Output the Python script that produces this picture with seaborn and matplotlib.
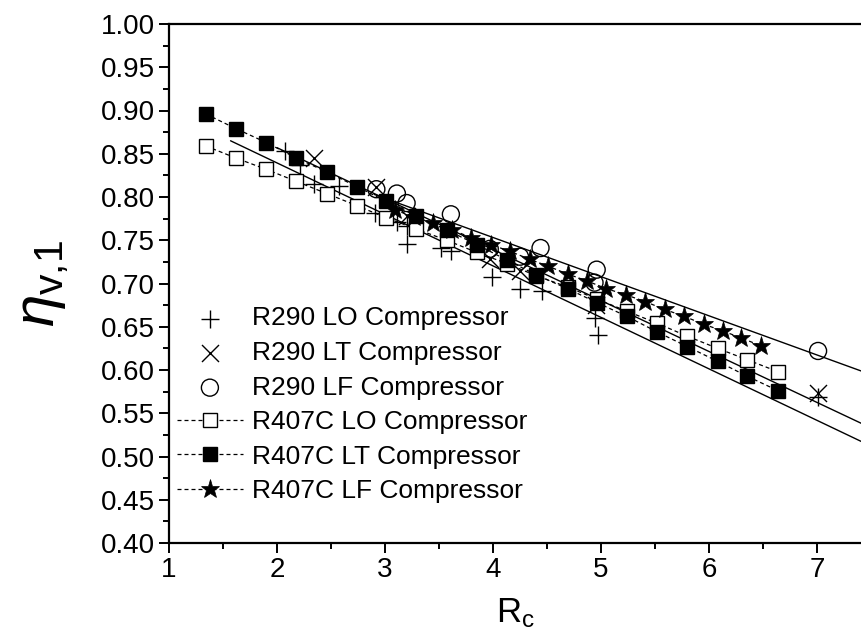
import numpy as np
import pandas as pd
import matplotlib
matplotlib.use("Agg")
import matplotlib.pyplot as plt
import seaborn as sns
from matplotlib.ticker import MultipleLocator, FormatStrFormatter

# ---------------- data ----------------
r290_lo_x = [2.07, 2.21, 2.34, 2.57, 2.91, 3.11, 3.20, 3.20, 3.52, 3.61, 3.99, 4.25, 4.45, 4.94, 4.97, 7.01]
r290_lo_y = [0.853, 0.837, 0.815, 0.813, 0.781, 0.771, 0.766, 0.746, 0.741, 0.737, 0.707, 0.694, 0.691, 0.660, 0.641, 0.569]

r290_lt_x = [2.34, 2.92, 3.20, 3.97, 4.25, 4.95, 7.01]
r290_lt_y = [0.845, 0.812, 0.778, 0.728, 0.715, 0.675, 0.573]

r290_lf_x = [2.92, 3.11, 3.20, 3.61, 3.97, 4.25, 4.44, 4.96, 4.94, 7.01]
r290_lf_y = [0.809, 0.804, 0.793, 0.780, 0.740, 0.731, 0.741, 0.716, 0.701, 0.622]

r407_x = [1.34, 1.62, 1.90, 2.18, 2.46, 2.74, 3.01, 3.29, 3.57, 3.85,
          4.13, 4.40, 4.69, 4.96, 5.24, 5.52, 5.80, 6.08, 6.35, 6.64]
r407_lo_y = [0.859, 0.845, 0.832, 0.818, 0.804, 0.790, 0.776, 0.763, 0.750, 0.736,
             0.723, 0.709, 0.696, 0.682, 0.668, 0.654, 0.639, 0.625, 0.612, 0.598]
r407_lt_y = [0.896, 0.879, 0.863, 0.845, 0.829, 0.812, 0.795, 0.778, 0.762, 0.745,
             0.727, 0.710, 0.694, 0.678, 0.662, 0.644, 0.627, 0.610, 0.593, 0.576]

r407_lf_x = [3.09, 3.27, 3.44, 3.62, 3.80, 3.98, 4.16, 4.34, 4.51, 4.69,
             4.87, 5.05, 5.23, 5.41, 5.59, 5.77, 5.95, 6.13, 6.30, 6.48]
r407_lf_y = [0.785, 0.777, 0.770, 0.762, 0.753, 0.745, 0.737, 0.728, 0.720, 0.711,
             0.703, 0.694, 0.687, 0.679, 0.670, 0.662, 0.653, 0.645, 0.637, 0.628]

# fitted (solid) lines for R290, read as end points
fit_lo_x = [1.57, 7.45]
fit_lo_y = [0.865, 0.515]
fit_lt_x = [2.00, 7.45]
fit_lt_y = [0.857, 0.536]
fit_lf_x = [2.90, 7.45]
fit_lf_y = [0.803, 0.597]

labels = ["R290 LO Compressor", "R290 LT Compressor", "R290 LF Compressor",
          "R407C LO Compressor", "R407C LT Compressor", "R407C LF Compressor"]

# ---------------- style ----------------
sns.set_style("ticks")
plt.rcParams["font.family"] = ["Liberation Sans", "DejaVu Sans"]
plt.rcParams["mathtext.fontset"] = "custom"
plt.rcParams["mathtext.rm"] = "Liberation Sans"
plt.rcParams["mathtext.it"] = "Liberation Sans:italic"
plt.rcParams["mathtext.bf"] = "Liberation Sans:bold"
for key in ["text.color", "axes.labelcolor", "xtick.color", "ytick.color", "axes.edgecolor"]:
    plt.rcParams[key] = "black"

FS_TICK = 20
FS_LEG = 19
fig = plt.figure(figsize=(8.62, 6.42), dpi=100)
ax = fig.add_axes([169 / 862, 1 - 543 / 642, 1 - 169 / 862, (543 - 24) / 642])

k = "black"
dash = (0, (3.2, 2.4))

# solid fit lines
for fx, fy in [(fit_lo_x, fit_lo_y), (fit_lt_x, fit_lt_y), (fit_lf_x, fit_lf_y)]:
    sns.lineplot(x=fx, y=fy, ax=ax, color=k, lw=1.0, estimator=None, sort=False, legend=False)

# R290 scatter (markers only)
sns.scatterplot(x=r290_lo_x, y=r290_lo_y, ax=ax, marker="+", s=170, color=k, linewidth=1.0,
                label=labels[0], zorder=4)
sns.scatterplot(x=r290_lt_x, y=r290_lt_y, ax=ax, marker="x", s=150, color=k, linewidth=1.0,
                label=labels[1], zorder=4)
sns.scatterplot(x=r290_lf_x, y=r290_lf_y, ax=ax, marker="o", s=150, facecolor="none",
                edgecolor=k, linewidth=1.0, label=labels[2], zorder=4)

# R407C line + symbol
sns.lineplot(x=r407_x, y=r407_lo_y, ax=ax, color=k, lw=0.9, linestyle=dash, marker="s",
             markersize=10, markerfacecolor="white", markeredgecolor=k, markeredgewidth=1.0,
             estimator=None, sort=False, label=labels[3], zorder=5)
sns.lineplot(x=r407_x, y=r407_lt_y, ax=ax, color=k, lw=0.9, linestyle=dash, marker="s",
             markersize=10, markerfacecolor=k, markeredgecolor=k, markeredgewidth=1.0,
             estimator=None, sort=False, label=labels[4], zorder=5)
sns.lineplot(x=r407_lf_x, y=r407_lf_y, ax=ax, color=k, lw=0.9, linestyle=dash, marker="*",
             markersize=14, markerfacecolor=k, markeredgecolor=k, markeredgewidth=0.5,
             estimator=None, sort=False, label=labels[5], zorder=5)

# ---------------- axes ----------------
ax.set_xlim(1, 1 + 693 / 108)
ax.set_ylim(0.40, 1.00)
ax.xaxis.set_major_locator(MultipleLocator(1))
ax.xaxis.set_minor_locator(MultipleLocator(0.5))
ax.yaxis.set_major_locator(MultipleLocator(0.05))
ax.yaxis.set_minor_locator(MultipleLocator(0.025))
ax.yaxis.set_major_formatter(FormatStrFormatter("%.2f"))
ax.xaxis.set_major_formatter(FormatStrFormatter("%d"))

for s in ["left", "bottom", "top"]:
    ax.spines[s].set_linewidth(1.6)
    ax.spines[s].set_color(k)
ax.spines["right"].set_visible(False)
ax.tick_params(which="major", direction="out", length=7, width=1.4, labelsize=FS_TICK,
               colors=k, labelcolor=k, top=False, right=False, pad=3)
ax.tick_params(which="minor", direction="out", length=4.5, width=1.4, top=False, right=False)

ax.set_xlabel(r"R$_\mathrm{c}$", fontsize=25, labelpad=10, color=k)
ax.set_ylabel(r"$\eta_{\mathrm{v{,}1}}$", fontsize=42, labelpad=22, color=k)

# legend
hs, ls = ax.get_legend_handles_labels()
order = [labels.index(l) for l in ls]
pairs = sorted(zip(order, hs, ls))
leg = ax.legend([p[1] for p in pairs], [p[2] for p in pairs], loc="upper left",
                bbox_to_anchor=(0.0, 0.471), frameon=False, fontsize=FS_LEG,
                handlelength=2.5, handletextpad=0.35, labelspacing=0.40, borderpad=0.0,
                borderaxespad=0.3)
for t in leg.get_texts():
    t.set_color(k)

fig.savefig("out.png", dpi=100)
